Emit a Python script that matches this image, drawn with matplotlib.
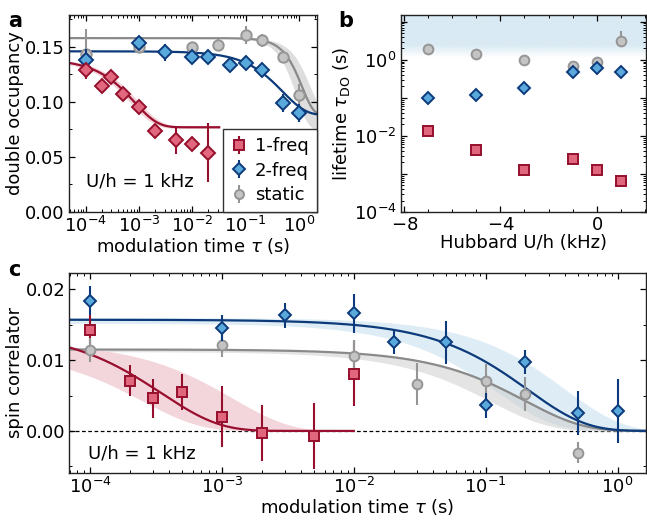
import numpy as np
import matplotlib
matplotlib.use("Agg")
import matplotlib.pyplot as plt
from matplotlib.ticker import LogLocator, FixedLocator, MultipleLocator, FuncFormatter, NullFormatter

plt.rcParams['font.family'] = ['DejaVu Sans']
plt.rcParams['font.size'] = 13
plt.rcParams['axes.linewidth'] = 1.0
plt.rcParams['axes.edgecolor'] = '#222222'

FS = 13

# ---------- colours ----------
RED_E, RED_F = '#960f2d', '#e0677d'
BLU_E, BLU_F = '#0c3a7a', '#5aa9dc'
GRY_E, GRY_F = '#959595', '#c4c4c4'
RED_L, BLU_L, GRY_L = '#9a0f30', '#0c3a7a', '#8a8a8a'

# ---------- panel a data ----------
a_red_t = [1e-4, 2e-4, 3e-4, 5e-4, 1e-3, 2e-3, 5e-3, 1e-2, 2e-2]
a_red_y = [0.129, 0.1145, 0.1224, 0.107, 0.0952, 0.0736, 0.0655, 0.0618, 0.0539]
a_red_e = [0.008, 0.006, 0.004, 0.005, 0.004, 0.005, 0.0125, 0.003, 0.027]

a_blu_t = [1e-4, 1e-3, 3e-3, 1e-2, 2e-2, 5e-2, 1e-1, 2e-1, 5e-1, 1.0]
a_blu_y = [0.138, 0.154, 0.145, 0.141, 0.1406, 0.1333, 0.135, 0.129, 0.0988, 0.090]
a_blu_e = [0.010, 0.004, 0.008, 0.004, 0.004, 0.004, 0.004, 0.004, 0.008, 0.008]

a_gry_t = [1e-4, 1e-3, 1e-2, 3e-2, 1e-1, 2e-1, 5e-1, 1.0]
a_gry_y = [0.144, 0.150, 0.1497, 0.1518, 0.161, 0.156, 0.141, 0.106]
a_gry_e = [0.022, 0.004, 0.004, 0.005, 0.008, 0.006, 0.006, 0.010]

# fit parameters (offset, amplitude, time constant, exponent)
a_red_fit = (0.077, 0.062, 8.2e-4, 1.0)
a_red_band = [(0.076, 0.062, 7.0e-4, 1.0), (0.078, 0.062, 9.6e-4, 1.0)]
a_blu_fit = (0.088, 0.058, 0.50, 1.0)
a_gry_fit = (0.088, 0.070, 1.155, 2.0)
a_gry_band = [(0.075, 0.083, 0.90, 2.0), (0.090, 0.068, 1.60, 2.0)]

# ---------- panel b data ----------
b_U = [-7, -5, -3, -1, 0, 1]
b_gry = [1.95, 1.38, 1.0, 0.69, 0.87, 3.16]
b_gry_lo = [0.1, 0.1, 0.1, 0.05, 0.05, 0.3]
b_gry_hi = [0.2, 0.15, 0.1, 0.05, 0.05, 2.7]
b_blu = [0.098, 0.120, 0.178, 0.49, 0.59, 0.48]
b_red = [0.0138, 0.0043, 0.00129, 0.00245, 0.00129, 0.00066]
b_red_e = [0.0008, 0.0003, 0.00012, 0.0005, 0.0001, 0.00005]

# ---------- panel c data ----------
c_blu_t = [1e-4, 1e-3, 3e-3, 1e-2, 2e-2, 5e-2, 1e-1, 2e-1, 5e-1, 1.0]
c_blu_y = [0.0184, 0.0145, 0.0163, 0.0166, 0.0125, 0.0125, 0.0036, 0.0097, 0.0025, 0.0028]
c_blu_e = [0.0020, 0.0018, 0.0018, 0.0028, 0.0017, 0.0030, 0.0018, 0.0017, 0.0031, 0.0045]

c_gry_t = [1e-4, 1e-3, 1e-2, 3e-2, 1e-1, 2e-1, 5e-1]
c_gry_y = [0.0114, 0.0121, 0.0106, 0.0066, 0.0071, 0.0052, -0.0031]
c_gry_e = [0.0017, 0.0017, 0.0023, 0.0030, 0.0024, 0.0024, 0.0015]

c_red_t = [1e-4, 2e-4, 3e-4, 5e-4, 1e-3, 2e-3, 5e-3, 1e-2]
c_red_y = [0.0143, 0.0071, 0.0046, 0.0055, 0.0020, -0.0003, -0.0007, 0.0081]
c_red_e = [0.0020, 0.0022, 0.0028, 0.0025, 0.0043, 0.0039, 0.0047, 0.0046]

c_red_fit = (0.0, 0.0144, 3.5e-4, 1.0)
c_red_band = [(0.0, 0.0115, 2.5e-4, 1.0), (0.0, 0.0126, 1.2e-3, 1.0)]
c_blu_fit = (0.0, 0.0157, 0.21, 1.0)
c_blu_band = [(0.0, 0.0152, 0.12, 1.0), (0.0, 0.0160, 0.40, 1.0)]
c_gry_fit = (0.0, 0.0115, 0.20, 1.0)
c_gry_band = [(0.0, 0.0112, 0.11, 1.0), (0.0, 0.0116, 0.21, 1.0)]


def model(t, p):
    c, b, T, beta = p
    return c + b * np.exp(-(t / T) ** beta)


def style_axis(ax):
    ax.tick_params(which='both', direction='in', top=True, right=True, labelsize=FS, pad=3)
    ax.tick_params(which='major', length=4.5, width=0.9)
    ax.tick_params(which='minor', length=2.5, width=0.7)


fig = plt.figure(figsize=(6.47, 5.21), dpi=100)
axa = fig.add_axes([0.1066, 0.5931, 0.3833, 0.3781])
axb = fig.add_axes([0.6193, 0.5931, 0.3790, 0.3781])
axc = fig.add_axes([0.1071, 0.0927, 0.8913, 0.3833])

ebkw = dict(linestyle='none', elinewidth=1.5, capsize=0, markeredgewidth=1.4)

# ================= panel a =================
xa = (4.8e-5, 2.2)
axa.set_xscale('log')
tt = np.logspace(np.log10(xa[0]), np.log10(xa[1]), 400)
tr = np.logspace(np.log10(xa[0]), np.log10(0.032), 400)
axa.fill_between(tt, model(tt, a_gry_band[0]), model(tt, a_gry_band[1]), color='#dedede', lw=0, zorder=1)
axa.fill_between(tr, model(tr, a_red_band[0]), model(tr, a_red_band[1]), color='#f2d3d8', lw=0, zorder=1)
axa.plot(tt, model(tt, a_gry_fit), color=GRY_L, lw=1.6, zorder=2)
axa.plot(tt, model(tt, a_blu_fit), color=BLU_L, lw=1.6, zorder=2)
axa.plot(tr, model(tr, a_red_fit), color=RED_L, lw=1.6, zorder=2)
axa.errorbar(a_gry_t, a_gry_y, yerr=a_gry_e, marker='o', ms=7.5, mfc=GRY_F, mec=GRY_E, ecolor=GRY_E, zorder=3, **ebkw)
axa.errorbar(a_blu_t, a_blu_y, yerr=a_blu_e, marker='D', ms=7.5, mfc=BLU_F, mec=BLU_E, ecolor=BLU_E, zorder=4, **ebkw)
axa.errorbar(a_red_t, a_red_y, yerr=a_red_e, marker='D', ms=7.5, mfc=RED_F, mec=RED_E, ecolor=RED_E, zorder=4, **ebkw)
axa.set_xlim(*xa)
axa.set_ylim(0, 0.179)
axa.yaxis.set_major_locator(MultipleLocator(0.05))
axa.yaxis.set_minor_locator(MultipleLocator(0.025))
axa.yaxis.set_major_formatter(FuncFormatter(lambda v, p: f'{v:.2f}'))
axa.xaxis.set_major_locator(LogLocator(base=10, numticks=20))
axa.xaxis.set_minor_locator(LogLocator(base=10, subs=np.arange(2, 10), numticks=20))
axa.xaxis.set_minor_formatter(NullFormatter())
style_axis(axa)
axa.set_xlabel('modulation time $\\tau$ (s)', fontsize=FS, labelpad=0)
axa.set_ylabel('double occupancy', fontsize=FS, labelpad=1)
axa.text(0.07, 0.13, 'U/h = 1 kHz', transform=axa.transAxes, fontsize=FS)

# legend proxies
h1 = axa.errorbar([np.nan], [np.nan], yerr=[1], marker='s', ms=6.5, mfc=RED_F, mec=RED_E, ecolor=RED_E, **ebkw)
h2 = axa.errorbar([np.nan], [np.nan], yerr=[1], marker='D', ms=6, mfc=BLU_F, mec=BLU_E, ecolor=BLU_E, **ebkw)
h3 = axa.errorbar([np.nan], [np.nan], yerr=[1], marker='o', ms=6.5, mfc=GRY_F, mec=GRY_E, ecolor=GRY_E, **ebkw)
leg = axa.legend([h1, h2, h3], ['1-freq', '2-freq', 'static'], loc='lower right',
                 bbox_to_anchor=(1.0, 0.0), borderaxespad=0, fancybox=False, framealpha=1,
                 edgecolor='#333333', fontsize=FS, handlelength=0.8, handletextpad=0.5,
                 borderpad=0.45, labelspacing=0.35)
leg.get_frame().set_linewidth(1.0)
leg.set_zorder(10)

# ================= panel b =================
axb.set_yscale('log')
axb.set_xlim(-8.15, 2.05)
axb.set_ylim(1e-4, 15)
grad = np.zeros((200, 2, 4))
fr = np.linspace(0, 1, 200)[:, None]  # axes fraction bottom->top
alpha = np.clip((fr - 0.785) / (0.85 - 0.785), 0, 1)
grad[..., 0] = 218 / 255
grad[..., 1] = 234 / 255
grad[..., 2] = 244 / 255
grad[..., 3] = alpha
axb.imshow(grad, extent=[0, 1, 0, 1], transform=axb.transAxes, origin='lower', aspect='auto', zorder=0)
axb.errorbar(b_U, b_gry, yerr=[b_gry_lo, b_gry_hi], marker='o', ms=7, mfc=GRY_F, mec=GRY_E, ecolor=GRY_E, zorder=3, **ebkw)
axb.errorbar(b_U, b_blu, marker='D', ms=6.5, mfc=BLU_F, mec=BLU_E, ecolor=BLU_E, zorder=4, **ebkw)
axb.errorbar(b_U, b_red, yerr=b_red_e, marker='s', ms=6.5, mfc=RED_F, mec=RED_E, ecolor=RED_E, zorder=4, **ebkw)
axb.yaxis.set_major_locator(FixedLocator([1e-4, 1e-3, 1e-2, 1e-1, 1e0, 1e1]))
axb.yaxis.set_minor_locator(LogLocator(base=10, subs=np.arange(2, 10), numticks=20))
axb.yaxis.set_minor_formatter(NullFormatter())


def even_fmt(v, p):
    e = int(round(np.log10(v)))
    return f'$\\mathdefault{{10^{{{e}}}}}$' if e % 2 == 0 else ''


axb.yaxis.set_major_formatter(FuncFormatter(even_fmt))
axb.xaxis.set_major_locator(FixedLocator([-8, -4, 0]))
axb.xaxis.set_minor_locator(MultipleLocator(1))
axb.xaxis.set_major_formatter(FuncFormatter(lambda v, p: f'$\\mathdefault{{{int(v)}}}$'.replace('-', '\u2212')))
style_axis(axb)
axb.set_xlabel('Hubbard U/h (kHz)', fontsize=FS, labelpad=0)
axb.set_ylabel('lifetime $\\tau_{\\mathrm{DO}}$ (s)', fontsize=FS, labelpad=1)

# ================= panel c =================
xc = (6.97e-5, 1.64)
axc.set_xscale('log')
tc = np.logspace(np.log10(xc[0]), np.log10(xc[1]), 500)
tcr = np.logspace(np.log10(xc[0]), np.log10(1e-2), 400)
axc.axhline(0, color='black', lw=0.9, ls=(0, (3, 2)), zorder=1)
axc.fill_between(tc, model(tc, c_blu_band[0]), model(tc, c_blu_band[1]), color='#d9eaf4', alpha=0.85, lw=0, zorder=1)
axc.fill_between(tc, model(tc, c_gry_band[0]), model(tc, c_gry_band[1]), color='#cfcfcf', alpha=0.55, lw=0, zorder=1)
axc.fill_between(tcr, model(tcr, c_red_band[0]), model(tcr, c_red_band[1]), color='#f3d6db', lw=0, zorder=1)
axc.plot(tc, model(tc, c_gry_fit), color=GRY_L, lw=1.6, zorder=2)
axc.plot(tc, model(tc, c_blu_fit), color=BLU_L, lw=1.6, zorder=2)
axc.plot(tcr, model(tcr, c_red_fit), color=RED_L, lw=1.6, zorder=2)
axc.errorbar(c_red_t, c_red_y, yerr=c_red_e, marker='s', ms=6.5, mfc=RED_F, mec=RED_E, ecolor=RED_E, zorder=3, **ebkw)
axc.errorbar(c_gry_t, c_gry_y, yerr=c_gry_e, marker='o', ms=7, mfc=GRY_F, mec=GRY_E, ecolor=GRY_E, zorder=3, **ebkw)
axc.errorbar(c_blu_t, c_blu_y, yerr=c_blu_e, marker='D', ms=6.5, mfc=BLU_F, mec=BLU_E, ecolor=BLU_E, zorder=4, **ebkw)
axc.set_xlim(*xc)
axc.set_ylim(-0.0059, 0.0223)
axc.yaxis.set_major_locator(MultipleLocator(0.01))
axc.yaxis.set_minor_locator(MultipleLocator(0.005))
axc.yaxis.set_major_formatter(FuncFormatter(lambda v, p: f'{v:.2f}'))
axc.xaxis.set_major_locator(LogLocator(base=10, numticks=20))
axc.xaxis.set_minor_locator(LogLocator(base=10, subs=np.arange(2, 10), numticks=20))
axc.xaxis.set_minor_formatter(NullFormatter())
style_axis(axc)
axc.set_xlabel('modulation time $\\tau$ (s)', fontsize=FS, labelpad=0)
axc.set_ylabel('spin correlator', fontsize=FS, labelpad=1)
axc.text(0.032, 0.07, 'U/h = 1 kHz', transform=axc.transAxes, fontsize=FS)

# panel letters
fig.text(0.012, 0.978, 'a', fontsize=15, fontweight='bold', va='top')
fig.text(0.523, 0.978, 'b', fontsize=15, fontweight='bold', va='top')
fig.text(0.012, 0.500, 'c', fontsize=15, fontweight='bold', va='top')

fig.savefig('out.png', dpi=100)
